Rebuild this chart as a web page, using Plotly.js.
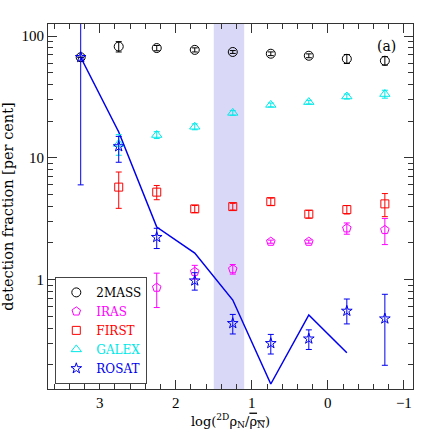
<!DOCTYPE html>
<html>
<head>
<meta charset="utf-8">
<script src="https://cdn.plot.ly/plotly-3.0.1.min.js"></script>
<style>
  html, body { margin: 0; padding: 0; background: #fff; }
  #chart { width: 436px; height: 436px; }
</style>
</head>
<body>
<div id="chart"></div>
<script>
// density bins (log scale, decreasing to the right)
const xBins = [3.25, 2.75, 2.25, 1.75, 1.25, 0.75, 0.25, -0.25, -0.75];

// detection fractions [per cent]
const twomass = [67, 82, 79.7, 77, 74, 71.6, 68.9, 65, 62.7];
const twomassErr = [0, 8, 4, 3, 2, 2.5, 2.5, 5.5, 5];

const iras = [null, null, 0.86, 1.16, 1.22, 2.05, 2.05, 2.64, 2.56];
const irasErr = [0, 0, 0.27, 0.15, 0.11, 0.06, 0.06, 0.28, 0.62];

const first = [null, 5.75, 5.23, 3.81, 3.98, 4.37, 3.45, 3.76, 4.19];
const firstErr = [0, 1.9, 0.7, 0.25, 0.25, 0.3, 0.25, 0.3, 0.9];

const galex = [null, 13, 15.4, 18, 23.4, 27.2, 28.7, 31.9, 33.4];
const galexErr = [0, 2.5, 1, 1, 1, 1, 1, 1.5, 2.5];

const rosat = [67, 12.4, 2.23, 0.98, 0.438, 0.30, 0.327, 0.553, 0.478];
const rosatErrPlus = [100, 2.6, 0.41, 0.16, 0.08, 0.055, 0.06, 0.14, 0.28];
const rosatErrMinus = [61, 3.2, 0.43, 0.16, 0.08, 0.055, 0.06, 0.12, 0.28];

// ROSAT expectation line
const lineX = [3.25, 2.75, 2.25, 1.75, 1.25, 0.75, 0.25, -0.25];
const lineY = [67, 16.3, 2.70, 1.65, 0.68, 0.139, 0.513, 0.251];

// highlighted density bin
const bandRange = [1.5, 1.1];

const serif = "Liberation Serif, DejaVu Serif, serif";
const wideSerif = "DejaVu Serif, Liberation Serif, serif";

function pts(name, color, symbol, size, y, errP, errM){
    return {
        x: xBins, y: y, name: `<span style="color:${color}">${name}</span>`,
        type: "scatter", mode: "markers",
        marker: {symbol: symbol, size: size, color: color, line: {color: color, width: 1}},
        error_y: {type: "data", array: errP, arrayminus: errM || errP, symmetric: !errM,
                  color: color, thickness: 1, width: 3},
        cliponaxis: false
    };
}

const traces = [
    {x: lineX, y: lineY, type: "scatter", mode: "lines", showlegend: false,
     line: {color: "#0000ee", width: 1.5}},
    pts("2MASS", "#000000", "circle-open", 9, twomass, twomassErr),
    pts("IRAS", "#ff00ff", "pentagon-open", 9, iras, irasErr),
    pts("FIRST", "#ff0000", "square-open", 8, first, firstErr),
    pts("GALEX", "#00e8e8", "triangle-up-open", 9, galex, galexErr),
    pts("ROSAT", "#0000ee", "star-open", 8, rosat, rosatErrPlus, rosatErrMinus)
];

const axisStyle = {
    showline: true, linecolor: "#333", linewidth: 1, mirror: "allticks",
    ticks: "inside", ticklen: 9, tickcolor: "#333", tickwidth: 1,
    showgrid: false, zeroline: false,
    tickfont: {family: serif, size: 15, color: "#000"}
};

const layout = {
    width: 436, height: 436,
    margin: {l: 48, r: 23, t: 24, b: 47},
    paper_bgcolor: "#fff", plot_bgcolor: "#fff",
    font: {family: wideSerif, size: 13, color: "#000"},
    xaxis: Object.assign({}, axisStyle, {
        range: [3.68, -1.12], dtick: 1, tick0: 0,
        minor: {dtick: 0.2, ticks: "inside", ticklen: 5, tickcolor: "#333"},
        title: {text: 'log(<sup>2D</sup>ρ<sub>N</sub>/<span style="text-decoration:overline">ρ<sub>N</sub></span>)',
                font: {family: wideSerif, size: 13}, standoff: 6}
    }),
    yaxis: Object.assign({}, axisStyle, {
        type: "log", range: [-0.898, 2.099], dtick: 1,
        minor: {dtick: "D1", ticks: "inside", ticklen: 5, tickcolor: "#333"},
        title: {text: "detection fraction [per cent]", font: {family: wideSerif, size: 14.5}, standoff: 5}
    }),
    shapes: [{
        type: "rect", xref: "x", yref: "paper", x0: bandRange[0], x1: bandRange[1], y0: 0, y1: 1,
        fillcolor: "#d9d9f7", line: {width: 0}, layer: "below"
    }],
    annotations: [{
        xref: "paper", yref: "paper", x: 0.928, y: 0.941, xanchor: "center", yanchor: "middle",
        text: "(a)", showarrow: false, font: {family: wideSerif, size: 14}
    }],
    legend: {
        x: 0.02, y: 0.014, xanchor: "left", yanchor: "bottom",
        bgcolor: "#fff", bordercolor: "#444", borderwidth: 1,
        font: {family: wideSerif, size: 12}, itemwidth: 30, tracegroupgap: 0
    },
    showlegend: true
};

Plotly.newPlot("chart", traces, layout, {displayModeBar: false, staticPlot: true});
</script>
</body>
</html>
